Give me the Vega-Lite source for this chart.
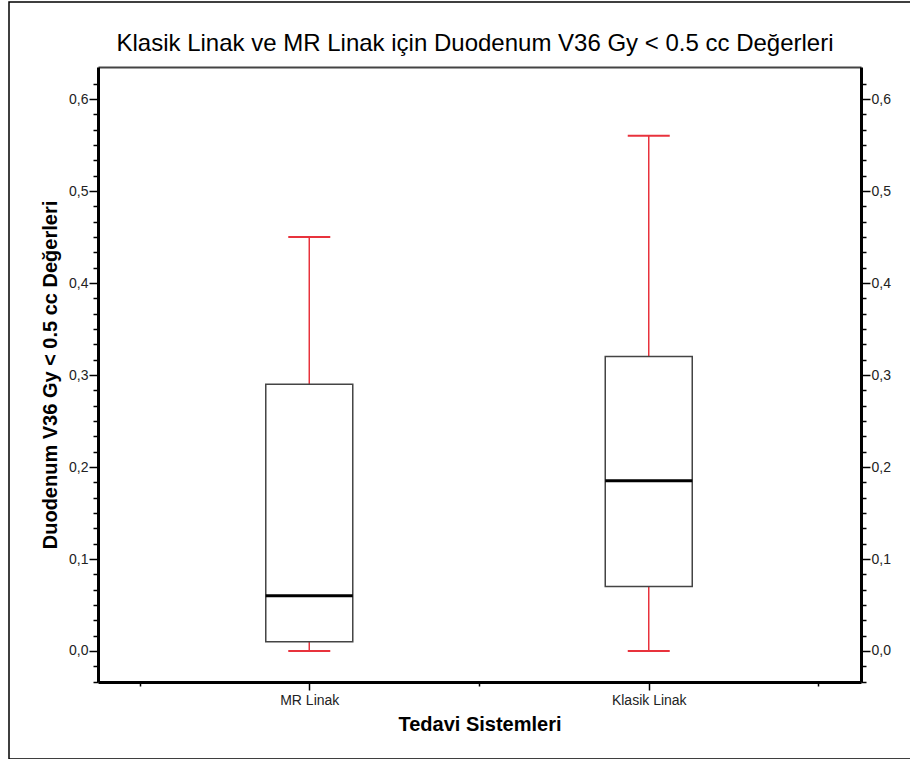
{
  "$schema": "https://vega.github.io/schema/vega-lite/v6.json",
  "width": 906,
  "height": 757,
  "autosize": {"type": "none"},
  "padding": {"left": 9, "top": 2, "right": 0, "bottom": 0},
  "background": "white",
  "config": {
    "font": "Liberation Sans",
    "view": {"stroke": "black", "strokeWidth": 1.5}
  },
  "title": {
    "text": "Klasik Linak ve MR Linak için Duodenum V36 Gy < 0.5 cc Değerleri",
    "font": "Liberation Sans",
    "fontSize": 24,
    "fontWeight": "normal",
    "color": "black",
    "anchor": "middle",
    "baseline": "alphabetic",
    "offset": -51,
    "dx": 13,
    "dy": 22
  },
  "data": {
    "values": [
      {"grup": "MR Linak", "kod": 1, "min": 0.0, "q1": 0.01, "median": 0.06, "q3": 0.29, "max": 0.45},
      {"grup": "Klasik Linak", "kod": 2, "min": 0.0, "q1": 0.07, "median": 0.185, "q3": 0.32, "max": 0.56}
    ]
  },
  "resolve": {"axis": {"x": "independent", "y": "independent"}},
  "layer": [
    {
      "mark": {"type": "rule", "color": "#e8323c", "strokeWidth": 1.5, "opacity": 1},
      "encoding": {
        "x": {
          "field": "kod",
          "type": "quantitative",
          "scale": {"domain": [0.3924, 2.6105], "range": [89, 852], "nice": false, "zero": false},
          "axis": {
            "orient": "bottom",
            "offset": -77,
            "values": [0.5, 1, 1.5, 2, 2.5],
            "labelExpr": "datum.value == 1 ? 'MR Linak' : (datum.value == 2 ? 'Klasik Linak' : '')",
            "labelOverlap": false,
            "labelFlush": false,
            "labelFontSize": 14,
            "labelColor": "#222",
            "labelPadding": 3,
            "tickSize": {"condition": {"test": "datum.value % 1 == 0", "value": 8}, "value": 4},
            "tickColor": "black",
            "tickWidth": 1.5,
            "domainColor": "black",
            "domainWidth": 3,
            "grid": false,
            "title": "Tedavi Sistemleri",
            "titleFontSize": 20,
            "titleFontWeight": "bold",
            "titleColor": "black",
            "titlePadding": 7
          }
        },
        "y": {
          "field": "min",
          "type": "quantitative",
          "scale": {"domain": [-0.0337, 0.6348], "range": [680, 65], "nice": false, "zero": false},
          "axis": {
            "orient": "left",
            "offset": -89,
            "values": [-0.033333, -0.016667, 0, 0.016667, 0.033333, 0.05, 0.066667, 0.083333, 0.1, 0.116667, 0.133333, 0.15, 0.166667, 0.183333, 0.2, 0.216667, 0.233333, 0.25, 0.266667, 0.283333, 0.3, 0.316667, 0.333333, 0.35, 0.366667, 0.383333, 0.4, 0.416667, 0.433333, 0.45, 0.466667, 0.483333, 0.5, 0.516667, 0.533333, 0.55, 0.566667, 0.583333, 0.6, 0.616667],
            "labelExpr": "abs(datum.value * 10 - round(datum.value * 10)) < 0.001 ? replace(format(datum.value, '.1f'), '.', ',') : ''",
            "labelOverlap": false,
            "labelFlush": false,
            "labelFontSize": 14,
            "labelColor": "#222",
            "labelPadding": 1,
            "tickSize": {"condition": {"test": "abs(datum.value * 10 - round(datum.value * 10)) < 0.001", "value": 9}, "value": 5},
            "tickColor": "black",
            "tickWidth": 1.5,
            "domainColor": "black",
            "domainWidth": 3,
            "grid": false,
            "title": "Duodenum V36 Gy < 0.5 cc Değerleri",
            "titleFontSize": 20,
            "titleFontWeight": "bold",
            "titleColor": "black",
            "titlePadding": 8
          }
        },
        "y2": {"field": "q1"}
      }
    },
    {
      "mark": {"type": "rule", "color": "#e8323c", "strokeWidth": 1.5, "opacity": 1},
      "encoding": {
        "x": {
          "field": "kod",
          "type": "quantitative",
          "axis": {"orient": "top", "offset": -65, "ticks": false, "labels": false, "grid": false, "title": null, "domainColor": "#444", "domainWidth": 2}
        },
        "y": {
          "field": "q3",
          "type": "quantitative",
          "axis": {
            "orient": "right",
            "offset": -54,
            "values": [-0.033333, -0.016667, 0, 0.016667, 0.033333, 0.05, 0.066667, 0.083333, 0.1, 0.116667, 0.133333, 0.15, 0.166667, 0.183333, 0.2, 0.216667, 0.233333, 0.25, 0.266667, 0.283333, 0.3, 0.316667, 0.333333, 0.35, 0.366667, 0.383333, 0.4, 0.416667, 0.433333, 0.45, 0.466667, 0.483333, 0.5, 0.516667, 0.533333, 0.55, 0.566667, 0.583333, 0.6, 0.616667],
            "labelExpr": "abs(datum.value * 10 - round(datum.value * 10)) < 0.001 ? replace(format(datum.value, '.1f'), '.', ',') : ''",
            "labelOverlap": false,
            "labelFlush": false,
            "labelFontSize": 14,
            "labelColor": "#222",
            "labelPadding": 1,
            "tickSize": {"condition": {"test": "abs(datum.value * 10 - round(datum.value * 10)) < 0.001", "value": 9}, "value": 5},
            "tickColor": "black",
            "tickWidth": 1.5,
            "domainColor": "black",
            "domainWidth": 3,
            "grid": false,
            "title": null
          }
        },
        "y2": {"field": "max"}
      }
    },
    {
      "mark": {"type": "tick", "orient": "horizontal", "color": "#e8323c", "opacity": 1, "size": 42, "thickness": 2},
      "encoding": {
        "x": {"field": "kod", "type": "quantitative", "axis": null},
        "y": {"field": "min", "type": "quantitative", "axis": null}
      }
    },
    {
      "mark": {"type": "tick", "orient": "horizontal", "color": "#e8323c", "opacity": 1, "size": 42, "thickness": 2},
      "encoding": {
        "x": {"field": "kod", "type": "quantitative", "axis": null},
        "y": {"field": "max", "type": "quantitative", "axis": null}
      }
    },
    {
      "mark": {"type": "bar", "fill": "white", "opacity": 1, "stroke": "#444", "strokeWidth": 1.5, "size": 87},
      "encoding": {
        "x": {"field": "kod", "type": "quantitative", "axis": null},
        "y": {"field": "q1", "type": "quantitative", "axis": null},
        "y2": {"field": "q3"}
      }
    },
    {
      "mark": {"type": "tick", "orient": "horizontal", "color": "black", "opacity": 1, "size": 87, "thickness": 3},
      "encoding": {
        "x": {"field": "kod", "type": "quantitative", "axis": null},
        "y": {"field": "median", "type": "quantitative", "axis": null}
      }
    }
  ]
}
